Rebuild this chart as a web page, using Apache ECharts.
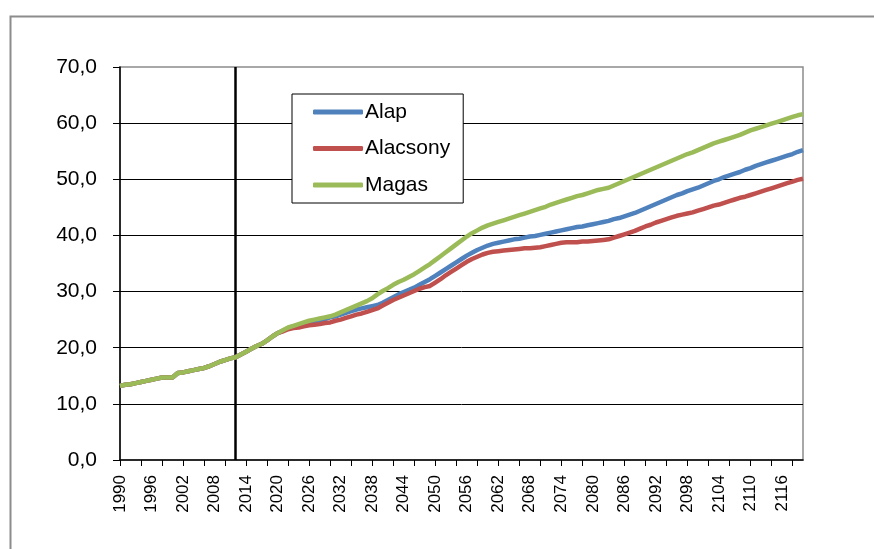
<!DOCTYPE html>
<html>
<head>
<meta charset="utf-8">
<script src="https://cdn.jsdelivr.net/npm/echarts@6/dist/echarts.min.js"></script>
<style>
  html, body { margin: 0; padding: 0; background: #fff; }
  #chart { width: 874px; height: 549px; }
</style>
</head>
<body>
<div id="chart"></div>
<script>
// Years on the category axis
const firstYear = 1990;
const lastYear = 2120;
const years = [];
for (let y = firstYear; y <= lastYear; y++) years.push(String(y));

// Shared observed values, 1990-2020
const history = [
  13.2, 13.4, 13.5, 13.7, 13.9, 14.1, 14.3, 14.5, 14.7, 14.7,
  14.7, 15.5, 15.6, 15.8, 16.0, 16.2, 16.4, 16.7, 17.1, 17.5,
  17.8, 18.1, 18.3, 18.8, 19.3, 19.8, 20.3, 20.7, 21.3, 22.0,
  22.6
];

// Scenario projections, 2021-2120
const alap = [
  23.0, 23.5, 23.8, 24.0, 24.3, 24.5, 24.7, 24.9, 25.1, 25.4,
  25.6, 25.9, 26.2, 26.5, 26.8, 27.0, 27.2, 27.4, 27.6, 28.0,
  28.5, 29.0, 29.5, 29.9, 30.3, 30.7, 31.2, 31.7, 32.2, 32.8,
  33.4, 34.0, 34.6, 35.2, 35.8, 36.4, 36.9, 37.4, 37.8, 38.2,
  38.5, 38.7, 38.9, 39.1, 39.3, 39.4, 39.6, 39.8, 39.9, 40.1,
  40.3, 40.5, 40.7, 40.9, 41.1, 41.3, 41.5, 41.6, 41.8, 42.0,
  42.2, 42.4, 42.6, 42.9, 43.1, 43.4, 43.7, 44.0, 44.4, 44.8,
  45.2, 45.6, 46.0, 46.4, 46.8, 47.2, 47.5, 47.9, 48.2, 48.5,
  48.9, 49.3, 49.7, 50.0, 50.4, 50.7, 51.0, 51.3, 51.7, 52.0,
  52.4, 52.7, 53.0, 53.3, 53.6, 53.9, 54.2, 54.5, 54.9, 55.2
];
const alacsony = [
  22.9, 23.3, 23.5, 23.6, 23.8, 24.0, 24.1, 24.2, 24.4, 24.5,
  24.8, 25.0, 25.3, 25.6, 25.9, 26.1, 26.4, 26.7, 27.0, 27.5,
  28.0, 28.5, 28.9, 29.3, 29.7, 30.1, 30.5, 30.8, 31.0, 31.6,
  32.2, 32.9, 33.5, 34.1, 34.7, 35.3, 35.8, 36.2, 36.6, 36.9,
  37.1, 37.2, 37.3, 37.4, 37.5, 37.6, 37.7, 37.7, 37.8, 37.9,
  38.1, 38.3, 38.5, 38.7, 38.8, 38.8, 38.8, 38.9, 38.9, 39.0,
  39.1, 39.2, 39.3, 39.6, 39.9, 40.2, 40.5, 40.8, 41.2, 41.6,
  41.9, 42.3, 42.6, 42.9, 43.2, 43.5, 43.7, 43.9, 44.1, 44.4,
  44.7, 45.0, 45.3, 45.5, 45.8, 46.1, 46.4, 46.7, 46.9, 47.2,
  47.5, 47.8, 48.1, 48.4, 48.7, 49.0, 49.3, 49.6, 49.9, 50.1
];
const magas = [
  23.1, 23.6, 23.9, 24.2, 24.5, 24.8, 25.0, 25.2, 25.4, 25.6,
  25.9, 26.3, 26.7, 27.1, 27.5, 27.9, 28.3, 28.8, 29.5, 30.1,
  30.6, 31.2, 31.7, 32.1, 32.6, 33.1, 33.7, 34.3, 34.9, 35.6,
  36.3, 37.0, 37.7, 38.4, 39.1, 39.8, 40.4, 40.9, 41.4, 41.8,
  42.1, 42.4, 42.7, 43.0, 43.3, 43.6, 43.9, 44.2, 44.5, 44.8,
  45.1, 45.5, 45.8, 46.1, 46.4, 46.7, 47.0, 47.2, 47.5, 47.8,
  48.1, 48.3, 48.5, 48.9, 49.3, 49.7, 50.1, 50.5, 50.9, 51.3,
  51.7, 52.1, 52.5, 52.9, 53.3, 53.7, 54.1, 54.5, 54.8, 55.2,
  55.6, 56.0, 56.4, 56.7, 57.0, 57.3, 57.6, 57.9, 58.3, 58.7,
  59.0, 59.3, 59.6, 59.9, 60.2, 60.5, 60.8, 61.1, 61.4, 61.6
];

const seriesNames = ['Alap', 'Alacsony', 'Magas'];
const seriesColors = ['#4F81BD', '#C0504D', '#9BBB59'];
const baseYear = '2012';

const font = '"Liberation Sans", Arial, sans-serif';
const chart = echarts.init(document.getElementById('chart'), null, { renderer: 'canvas' });

function makeSeries(i, values) {
  return {
    name: seriesNames[i],
    type: 'line',
    data: history.concat(values),
    symbol: 'none',
    smooth: false,
    lineStyle: { color: seriesColors[i], width: 4.5 },
    itemStyle: { color: seriesColors[i] },
    z: 3 + i
  };
}

const series = [makeSeries(0, alap), makeSeries(1, alacsony), makeSeries(2, magas)];
// vertical marker at the last observed year
series[0].markLine = {
  silent: true,
  symbol: ['none', 'none'],
  label: { show: false },
  lineStyle: { color: '#000', width: 2.5, type: 'solid' },
  data: [{ xAxis: baseYear }],
  z: 2
};

chart.setOption({
  animation: false,
  backgroundColor: '#fff',
  graphic: [{
    type: 'rect',
    left: 8, top: 14,
    shape: { width: 900, height: 600 },
    style: { fill: 'none', stroke: '#8c8c8c', lineWidth: 2 },
    silent: true
  }],
  grid: {
    left: 120, top: 67, right: 71, bottom: 89,
    show: true,
    borderColor: '#8c8c8c',
    borderWidth: 1.5,
    backgroundColor: 'transparent'
  },
  legend: {
    data: seriesNames,
    orient: 'vertical',
    left: 292, top: 94,
    padding: [7, 13, 7, 21],
    itemGap: 14.5,
    itemWidth: 50,
    itemHeight: 5,
    icon: 'roundRect',
    borderColor: '#000',
    borderWidth: 1,
    backgroundColor: '#fff',
    textStyle: { fontFamily: font, fontSize: 21, color: '#000', lineHeight: 22, padding: [0, 0, 0, -3] }
  },
  xAxis: {
    type: 'category',
    data: years,
    boundaryGap: false,
    axisLine: { show: true, lineStyle: { color: '#000', width: 1.5 } },
    axisTick: { show: true, interval: 3, length: 6, lineStyle: { color: '#000', width: 1 } },
    axisLabel: {
      interval: 5, rotate: 90, margin: 15,
      fontFamily: font, fontSize: 17, color: '#000'
    },
    splitLine: { show: false }
  },
  yAxis: {
    type: 'value',
    min: 0, max: 70, interval: 10,
    axisLine: { show: true, lineStyle: { color: '#000', width: 1.5 } },
    axisTick: { show: true, length: 7, lineStyle: { color: '#000', width: 1 } },
    axisLabel: {
      margin: 23,
      fontFamily: font, fontSize: 21, color: '#000',
      formatter: v => v.toFixed(1).replace('.', ',')
    },
    splitLine: { show: true, showMinLine: false, showMaxLine: false, lineStyle: { color: '#000', width: 1 } }
  },
  series: series
});
</script>
</body>
</html>
